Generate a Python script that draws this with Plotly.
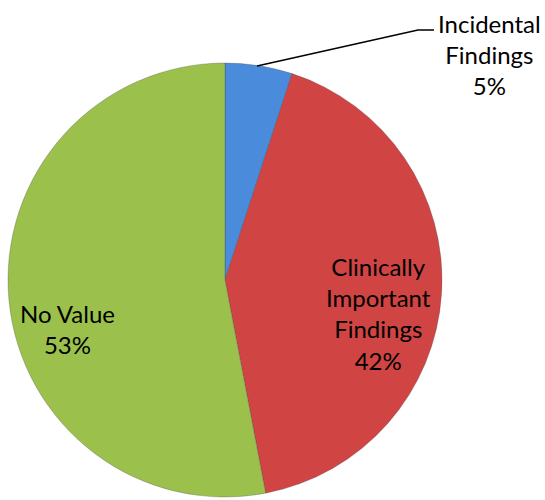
import plotly.graph_objects as go

labels = ["Incidental Findings", "Clinically Important Findings", "No Value"]
values = [5, 42, 53]
colors = ["#4A8BDB", "#D04543", "#9BC04C"]
label_lines = [["Incidental", "Findings"], ["Clinically", "Important", "Findings"], ["No Value"]]

W, H = 545, 500
cx, cy, r = 225, 280, 217  # pixel centre/radius (y from top)

fig = go.Figure(go.Pie(
    labels=labels, values=values, sort=False, direction="clockwise", rotation=0,
    marker=dict(colors=colors, line=dict(color="rgba(60,60,60,0.35)", width=0.8)),
    textinfo="none", hoverinfo="label+percent", showlegend=False,
    domain=dict(x=[(cx - r) / W, (cx + r) / W], y=[(H - cy - r) / H, (H - cy + r) / H]),
))

total = sum(values)
pcts = [round(v * 100 / total) for v in values]
texts = ["<br>".join(label_lines[i] + [f"{pcts[i]}%"]) for i in range(3)]
pos = [(489, 55), (378, 313), (67, 329)]
font = dict(family="Lato, Calibri, sans-serif", size=24, color="black")
for t, (x, y) in zip(texts, pos):
    fig.add_annotation(x=x / W, y=1 - y / H, xref="paper", yref="paper", text=t,
                       showarrow=False, font=font, align="center",
                       xanchor="center", yanchor="middle")

fig.add_shape(type="path", xref="paper", yref="paper",
              path=f"M {257/W} {1-66/H} L {418/W} {1-30/H} L {434/W} {1-30/H}",
              line=dict(color="black", width=1.5))

fig.update_layout(width=W, height=H, margin=dict(l=0, r=0, t=0, b=0),
                  paper_bgcolor="white", plot_bgcolor="white")
fig.write_html("out.html", config={"displayModeBar": False},
               post_script="document.body.style.margin='0';")
